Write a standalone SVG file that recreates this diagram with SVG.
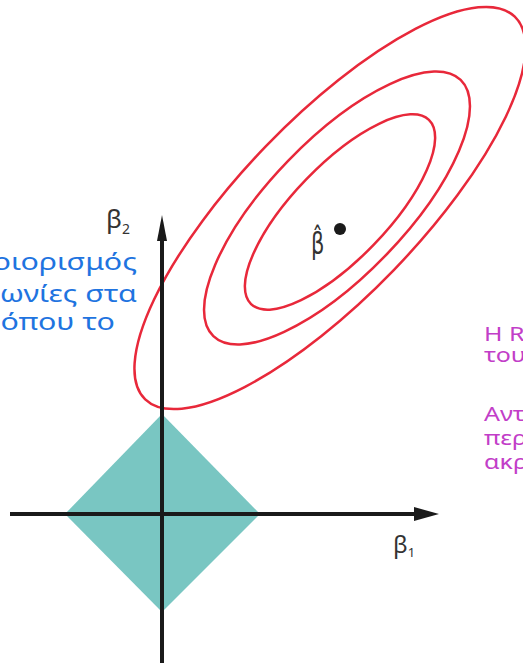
<svg xmlns="http://www.w3.org/2000/svg" width="523" height="663" viewBox="0 0 523 663">
<style>
.ell{fill:none;stroke:#e8283a;stroke-width:2.5}
.axis{stroke:#1a1a1a;stroke-width:4;fill:none}
.head{fill:#1a1a1a}
.lbl{font-family:"Noto Sans","DejaVu Sans",sans-serif;fill:#333333}
.blue{font-family:"Noto Sans","DejaVu Sans",sans-serif;font-size:23px;fill:#1f74e0}
.mag{font-family:"Noto Sans","DejaVu Sans",sans-serif;font-size:20px;fill:#c23ec8}
</style>
<rect width="523" height="663" fill="#ffffff"/>
<g id="constraint">
<polygon points="162,414 260,514 162,612 65,514" fill="#79c6c2"/>
</g>
<g id="contours">
<ellipse class="ell" cx="0" cy="0" rx="266" ry="89" transform="translate(330,208) rotate(-46)"/>
<ellipse class="ell" cx="0" cy="0" rx="178" ry="68" transform="translate(337,208) rotate(-46)"/>
<ellipse class="ell" cx="0" cy="0" rx="128" ry="47" transform="translate(340,212) rotate(-46)"/>
</g>
<g id="connectors">
<line class="axis" x1="162" y1="663" x2="162" y2="238"/>
<polygon class="head" points="162,215 167,241 157,241"/>
<line class="axis" x1="10" y1="514" x2="416" y2="514"/>
<polygon class="head" points="439,514 414,507 414,521"/>
</g>
<g id="estimate">
<circle cx="340" cy="229" r="6" fill="#1a1a1a"/>
<text font-family="'DejaVu Sans',sans-serif" fill="#333333" font-size="30" transform="translate(311,254) scale(0.7,1)">β̂</text>
</g>
<g id="axis-labels">
<text class="lbl" x="106" y="228" font-size="26">β<tspan font-size="14" dy="6">2</tspan></text>
<text class="lbl" x="393" y="553" font-size="24">β<tspan font-size="13" dy="4">1</tspan></text>
</g>
<g id="left-note">
<text class="blue" text-anchor="end" transform="translate(137,270) scale(1.32,1)">ριορισμός</text>
<text class="blue" text-anchor="end" transform="translate(137,302) scale(1.32,1)">ωνίες στα</text>
<text class="blue" text-anchor="end" transform="translate(115,330) scale(1.32,1)">όπου το</text>
</g>
<g id="right-note">
<text class="mag" transform="translate(484,341) scale(1.25,1)">H R</text>
<text class="mag" transform="translate(484,362) scale(1.25,1)">του</text>
<text class="mag" transform="translate(484,421) scale(1.25,1)">Αντ</text>
<text class="mag" transform="translate(484,445) scale(1.25,1)">περ</text>
<text class="mag" transform="translate(484,469) scale(1.25,1)">ακρ</text>
</g>
</svg>
